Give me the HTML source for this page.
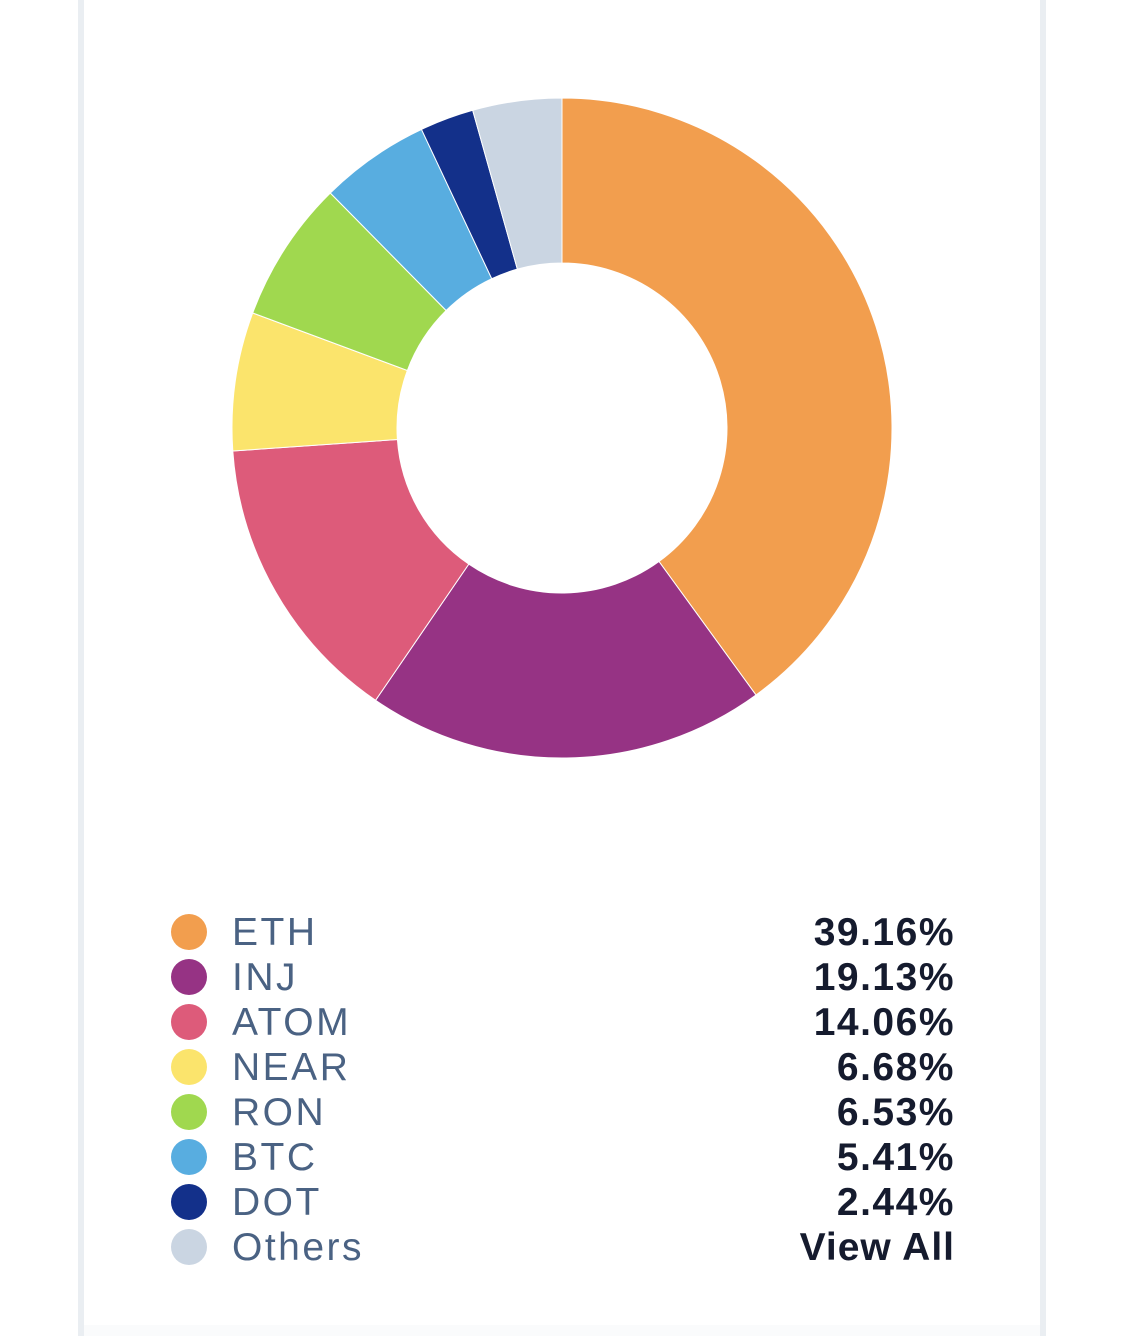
<!DOCTYPE html>
<html><head><meta charset="utf-8"><style>
html,body{margin:0;padding:0;background:#fff;width:1125px;height:1336px;overflow:hidden;position:relative;font-family:"Liberation Sans",sans-serif}
.bl{position:absolute;left:78px;top:0;width:6px;height:1336px;background:#eaeef2}
.br{position:absolute;left:1040px;top:0;width:6px;height:1336px;background:#eaeef2}
.bb{position:absolute;left:84px;top:1325px;width:956px;height:11px;background:#fafbfc}
.row{position:absolute;left:0;width:1125px;height:45px}
.dot{position:absolute;left:171px;top:4px;width:36px;height:36px;border-radius:50%}
.lab{position:absolute;left:232px;top:0;font-size:39px;line-height:45px;color:#4a6283;letter-spacing:2.5px}
.val{position:absolute;right:170px;top:0;font-size:39px;line-height:45px;color:#151b2e;font-weight:bold;letter-spacing:1.5px}
</style></head><body>
<div class="bl"></div><div class="br"></div><div class="bb"></div>
<svg id="s" width="1125" height="800" style="position:absolute;left:0;top:0"></svg>
<div class="row" style="top:910px"><div class="dot" style="background:#f29e4e"></div><div class="lab">ETH</div><div class="val">39.16%</div></div>
<div class="row" style="top:955px"><div class="dot" style="background:#963384"></div><div class="lab">INJ</div><div class="val">19.13%</div></div>
<div class="row" style="top:1000px"><div class="dot" style="background:#dd5b7a"></div><div class="lab">ATOM</div><div class="val">14.06%</div></div>
<div class="row" style="top:1045px"><div class="dot" style="background:#fbe46c"></div><div class="lab">NEAR</div><div class="val">6.68%</div></div>
<div class="row" style="top:1090px"><div class="dot" style="background:#a0d84f"></div><div class="lab">RON</div><div class="val">6.53%</div></div>
<div class="row" style="top:1135px"><div class="dot" style="background:#58ade0"></div><div class="lab">BTC</div><div class="val">5.41%</div></div>
<div class="row" style="top:1180px"><div class="dot" style="background:#13308a"></div><div class="lab">DOT</div><div class="val">2.44%</div></div>
<div class="row" style="top:1225px"><div class="dot" style="background:#cad5e2"></div><div class="lab">Others</div><div class="val" style="letter-spacing:1px">View All</div></div>
<script>
var cx=562,cy=428,R=330,r=165;
var segs=[[0,144,"#f29e4e"],[144,214.4,"#963384"],[214.4,266,"#dd5b7a"],[266,290.4,"#fbe46c"],[290.4,315.4,"#a0d84f"],[315.4,334.8,"#58ade0"],[334.8,344.3,"#13308a"],[344.3,360,"#cad5e2"]];
function p(a,rad){a=a*Math.PI/180;return (cx+rad*Math.sin(a)).toFixed(2)+" "+(cy-rad*Math.cos(a)).toFixed(2);}
var h="";
segs.forEach(function(s){var l=(s[1]-s[0])>180?1:0;
h+='<path fill="'+s[2]+'" stroke="#fff" stroke-width="1" d="M'+p(s[0],R)+' A'+R+' '+R+' 0 '+l+' 1 '+p(s[1],R)+' L'+p(s[1],r)+' A'+r+' '+r+' 0 '+l+' 0 '+p(s[0],r)+' Z"/>';});
document.getElementById("s").innerHTML=h;
</script>
</body></html>
